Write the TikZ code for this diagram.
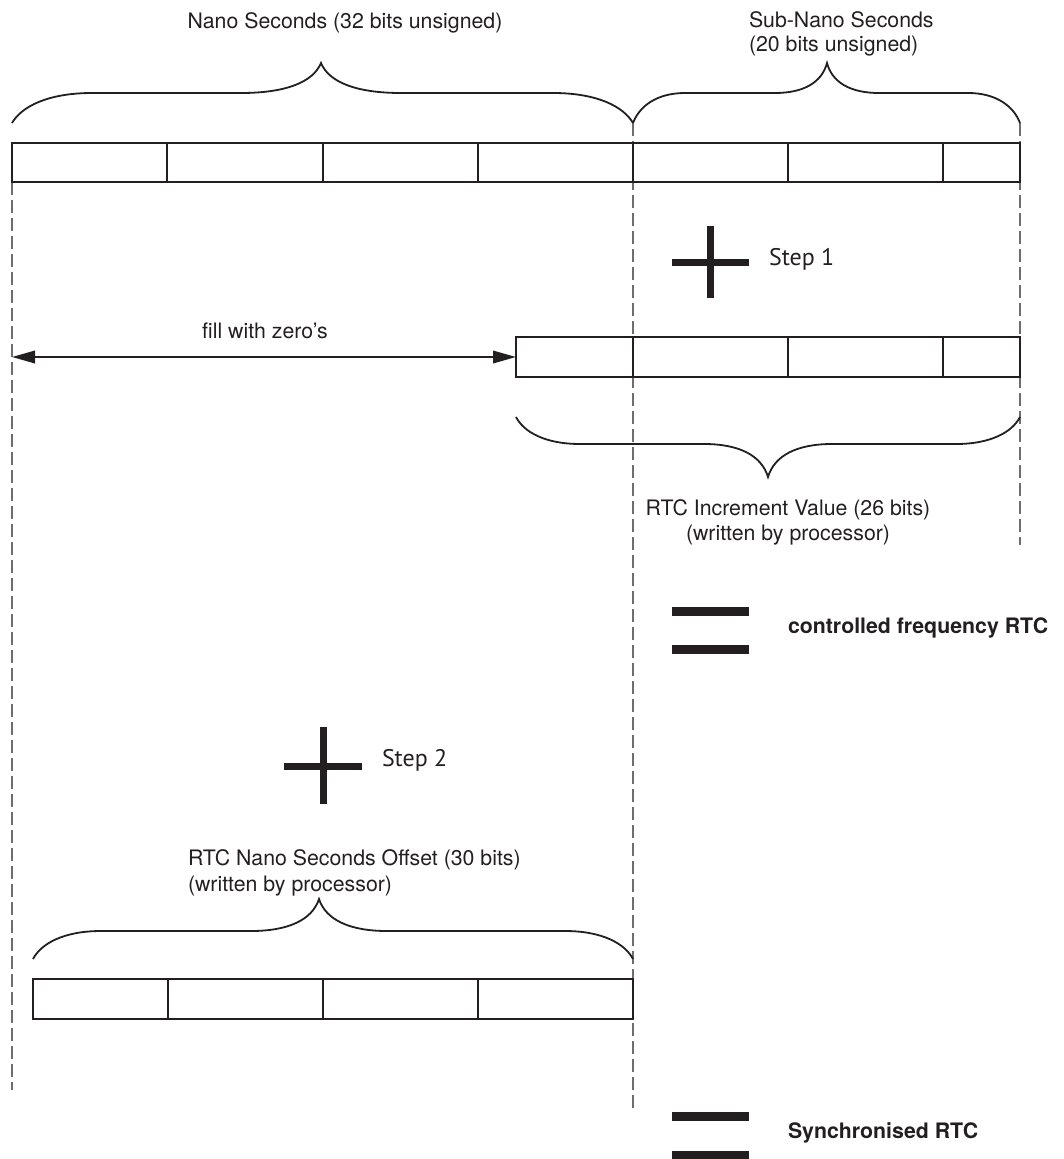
\documentclass[tikz,border=0pt]{standalone}
\usepackage{fontspec}
\setmainfont{TeX Gyre Heros}
\newfontfamily\stepfont{PT Sans}
\usetikzlibrary{arrows.meta}
\definecolor{ink}{HTML}{231F20}
\definecolor{guide}{HTML}{6D6E70}

% curly brace: #1,#2 end x; #3 end y; #4 y of the straight parts;
% #5,#6 tip; #7 width of each curved part
\newcommand\regbrace[7]{%
  \draw[bracestyle] (#1,#3)
    .. controls ({#1+0.12*#7},{#3+0.55*(#4-#3)}) and ({#1+0.45*#7},#4) .. ({#1+#7},#4)
    -- ({#5-#7},#4)
    .. controls ({#5-0.45*#7},#4) and ({#5-0.1*#7},{#4+0.35*(#6-#4)}) .. (#5,#6)
    .. controls ({#5+0.1*#7},{#4+0.35*(#6-#4)}) and ({#5+0.45*#7},#4) .. ({#5+#7},#4)
    -- ({#2-#7},#4)
    .. controls ({#2-0.45*#7},#4) and ({#2-0.12*#7},{#3+0.55*(#4-#3)}) .. (#2,#3);}

\begin{document}
\begin{tikzpicture}[x=1pt,y=-1pt,
  every node/.style={inner sep=0pt, outer sep=0pt, text=ink},
  lbl/.style={font=\fontsize{21.3}{25}\selectfont},
  boldlbl/.style={font=\bfseries\fontsize{21.3}{25}\selectfont},
  steplbl/.style={font=\stepfont\fontsize{24}{28}\selectfont},
  regbox/.style={draw=ink, line width=2pt},
  cellsep/.style={draw=ink, line width=2pt},
  guideline/.style={draw=guide, line width=1.2pt, dash pattern=on 13pt off 5pt},
  bracestyle/.style={draw=ink, line width=1.8pt},
  plusbar/.style={draw=ink, line width=7pt},
  eqbar/.style={draw=ink, line width=9pt},
  zeroarrow/.style={draw=ink, line width=2pt,
    {Triangle[length=23pt,width=12.5pt]}-{Triangle[length=23pt,width=12.5pt]}},
]
\useasboundingbox (0,0) rectangle (1064,1159);

% vertical guide lines
\draw[guideline] (12,182) -- (12,1090);
\draw[guideline] (633,123) -- (633,1109);
\draw[guideline] (1020,123) -- (1020,545);

% clock register: 32 bit nano seconds + 20 bit sub-nano seconds
\node[regbox, minimum width=1008pt, minimum height=39pt] (clock) at (516,162.5) {};
\foreach \x in {167,323,478,633,788,943}
  \draw[cellsep] (\x,143) -- (\x,182);

\regbrace{12}{633}{123}{93}{321}{63}{80}
\regbrace{633}{1020}{123}{93}{827}{63}{52}
\node[lbl, anchor=base] (nstitle) at (345,28) {Nano Seconds (32 bits unsigned)};
\node[anchor=north west, align=left, font=\fontsize{21.3}{23.5}\selectfont] (subtitle) at (749,12)
  {Sub-Nano Seconds\\(20 bits unsigned)};

% step 1: add the increment value
\draw[plusbar] (672,262) -- (749,262);
\draw[plusbar] (710,226) -- (710,298);
\node[steplbl, anchor=base west] (step1) at (769,265) {Step 1};

\node[regbox, line width=1.6pt, minimum width=504pt, minimum height=40pt] (incr) at (768,357) {};
\foreach \x in {633,788,943}
  \draw[cellsep, line width=1.6pt] (\x,337) -- (\x,377);
\coordinate (zerostart) at (12,357);
\draw[zeroarrow] (zerostart) -- (incr.west);
\node[lbl, anchor=base] (fillzero) at (265,338) {fill with zero’s};

\regbrace{516}{1020}{417}{444}{768}{477}{64}
\node[lbl, anchor=north, align=center] (inclbl) at (788,499.5)
  {RTC Increment Value (26 bits)\\(written by processor)};

% result 1
\draw[eqbar] (672,611) -- (749,611);
\draw[eqbar] (672,649) -- (749,649);
\node[boldlbl, anchor=base west] (cfrtc) at (788,633) {controlled frequency RTC};

% step 2: add the offset
\draw[plusbar] (284,766) -- (362,766);
\draw[plusbar] (323,727) -- (323,804);
\node[steplbl, anchor=base west] (step2) at (382,766) {Step 2};

\node[anchor=north west, align=left, font=\fontsize{21.3}{26}\selectfont] (offlbl) at (188,849.5)
  {RTC Nano Seconds Offset (30 bits)\\(written by processor)};
\regbrace{33}{633}{959}{931}{319}{899}{68}

\node[regbox, minimum width=600pt, minimum height=40pt] (offs) at (333,999) {};
\foreach \x in {168,323,478}
  \draw[cellsep] (\x,979) -- (\x,1019);

% result 2
\draw[eqbar] (672,1116) -- (749,1116);
\draw[eqbar] (672,1155) -- (749,1155);
\node[boldlbl, anchor=base west] (syncrtc) at (788,1138) {Synchronised RTC};
\end{tikzpicture}
\end{document}
